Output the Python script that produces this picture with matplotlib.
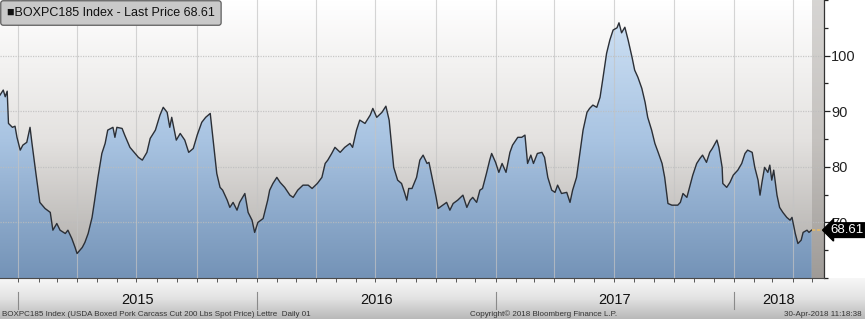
import numpy as np
import pandas as pd
import matplotlib
matplotlib.use("Agg")
import matplotlib.pyplot as plt
import matplotlib.dates as mdates
from matplotlib.colors import LinearSegmentedColormap
from matplotlib.transforms import blended_transform_factory

plt.rcParams["font.family"] = ["Liberation Sans", "DejaVu Sans"]

# BOXPC185 Index, last price series
dates = [
    "2014-12-04", "2014-12-09", "2014-12-12", "2014-12-15", "2014-12-17", "2014-12-23", "2014-12-27",
    "2014-12-30", "2015-01-04", "2015-01-08", "2015-01-14", "2015-01-19", "2015-01-22", "2015-01-28",
    "2015-02-03", "2015-02-11", "2015-02-19", "2015-02-23", "2015-03-01", "2015-03-06", "2015-03-14",
    "2015-03-18", "2015-03-24", "2015-03-29", "2015-04-01", "2015-04-09", "2015-04-13", "2015-04-18",
    "2015-04-24", "2015-04-28", "2015-05-03", "2015-05-09", "2015-05-14", "2015-05-18", "2015-05-26",
    "2015-05-29", "2015-06-01", "2015-06-09", "2015-06-13", "2015-06-21", "2015-06-29", "2015-07-04",
    "2015-07-10", "2015-07-17", "2015-07-22", "2015-07-30", "2015-08-06", "2015-08-11", "2015-08-17",
    "2015-08-21", "2015-08-24", "2015-08-31", "2015-09-06", "2015-09-13", "2015-09-19", "2015-09-26",
    "2015-10-02", "2015-10-09", "2015-10-15", "2015-10-22", "2015-10-26", "2015-11-01", "2015-11-06",
    "2015-11-10", "2015-11-17", "2015-11-21", "2015-11-26", "2015-12-02", "2015-12-06", "2015-12-14",
    "2015-12-19", "2015-12-25", "2015-12-29", "2016-01-03", "2016-01-11", "2016-01-18", "2016-01-21",
    "2016-01-26", "2016-02-01", "2016-02-06", "2016-02-13", "2016-02-21", "2016-02-26", "2016-03-04",
    "2016-03-12", "2016-03-20", "2016-03-26", "2016-04-03", "2016-04-10", "2016-04-15", "2016-04-19",
    "2016-04-25", "2016-04-30", "2016-05-08", "2016-05-15", "2016-05-23", "2016-05-27", "2016-06-02",
    "2016-06-07", "2016-06-15", "2016-06-23", "2016-06-27", "2016-07-03", "2016-07-11", "2016-07-17",
    "2016-07-22", "2016-07-26", "2016-07-29", "2016-08-04", "2016-08-10", "2016-08-15", "2016-08-18",
    "2016-08-21", "2016-08-26", "2016-09-02", "2016-09-07", "2016-09-12", "2016-09-18", "2016-09-21",
    "2016-09-25", "2016-10-02", "2016-10-05", "2016-10-12", "2016-10-18", "2016-10-23", "2016-10-28",
    "2016-11-04", "2016-11-12", "2016-11-18", "2016-11-23", "2016-11-27", "2016-12-03", "2016-12-08",
    "2016-12-12", "2016-12-18", "2016-12-23", "2016-12-26", "2017-01-01", "2017-01-06", "2017-01-11",
    "2017-01-17", "2017-01-23", "2017-01-27", "2017-02-04", "2017-02-10", "2017-02-15", "2017-02-19",
    "2017-02-24", "2017-02-28", "2017-03-06", "2017-03-13", "2017-03-17", "2017-03-22", "2017-03-28",
    "2017-04-02", "2017-04-06", "2017-04-12", "2017-04-20", "2017-04-25", "2017-04-29", "2017-05-05",
    "2017-05-10", "2017-05-15", "2017-05-21", "2017-05-25", "2017-05-30", "2017-06-05", "2017-06-10",
    "2017-06-14", "2017-06-20", "2017-06-25", "2017-06-30", "2017-07-06", "2017-07-09", "2017-07-13",
    "2017-07-18", "2017-07-23", "2017-07-29", "2017-08-02", "2017-08-07", "2017-08-13", "2017-08-18",
    "2017-08-22", "2017-08-28", "2017-09-02", "2017-09-07", "2017-09-13", "2017-09-17", "2017-09-22",
    "2017-09-28", "2017-10-03", "2017-10-07", "2017-10-11", "2017-10-15", "2017-10-21", "2017-10-26",
    "2017-10-30", "2017-11-05", "2017-11-10", "2017-11-14", "2017-11-20", "2017-11-25", "2017-11-29",
    "2017-12-06", "2017-12-09", "2017-12-14", "2017-12-15", "2017-12-21", "2017-12-26", "2017-12-31",
    "2018-01-07", "2018-01-13", "2018-01-18", "2018-01-22", "2018-01-29", "2018-02-02", "2018-02-07",
    "2018-02-10", "2018-02-13", "2018-02-17", "2018-02-22", "2018-02-25", "2018-02-28", "2018-03-03",
    "2018-03-08", "2018-03-12", "2018-03-17", "2018-03-23", "2018-03-28", "2018-03-31", "2018-04-05",
    "2018-04-09", "2018-04-14", "2018-04-17", "2018-04-23", "2018-04-26", "2018-04-30",
]
prices = [
    92.9, 93.8, 92.6, 93.6, 87.8, 87.1, 87.3,
    85.3, 83.0, 83.9, 84.4, 87.1, 84.2, 78.8,
    73.6, 72.5, 71.8, 68.6, 69.8, 68.6, 68.0,
    68.6, 67.1, 65.5, 64.4, 65.5, 66.4, 68.0,
    70.9, 74.0, 78.1, 82.4, 84.2, 86.6, 87.1,
    85.3, 87.1, 86.9, 85.7, 83.5, 82.4, 81.7,
    81.2, 82.6, 85.1, 86.6, 89.3, 90.7, 89.8,
    87.1, 88.9, 84.8, 86.0, 84.8, 82.6, 83.3,
    85.7, 88.0, 88.9, 89.6, 85.3, 78.8, 76.3,
    75.8, 74.0, 72.7, 73.6, 72.2, 73.6, 75.2,
    71.8, 70.4, 68.2, 70.0, 70.7, 74.0, 75.8,
    77.0, 78.1, 77.2, 76.3, 74.9, 74.5, 75.8,
    76.7, 76.7, 76.1, 77.0, 78.1, 80.6, 81.2,
    82.4, 83.5, 82.6, 83.5, 84.2, 83.5, 86.6,
    88.4, 87.8, 89.3, 90.5, 88.9, 89.8, 90.9,
    88.4, 83.5, 79.9, 77.6, 77.0, 75.2, 74.0,
    76.1, 76.1, 78.1, 81.2, 82.1, 80.6, 80.8,
    78.5, 74.5, 72.5, 73.1, 73.6, 72.2, 73.4,
    74.0, 74.9, 72.7, 74.0, 74.5, 73.6, 75.8,
    76.1, 78.8, 81.2, 82.4, 80.8, 79.0, 80.6,
    79.0, 82.6, 83.9, 85.3, 85.3, 85.7, 80.6,
    82.1, 80.6, 82.4, 82.6, 81.7, 78.1, 75.8,
    75.4, 76.7, 75.2, 75.4, 73.6, 75.8, 78.1,
    82.4, 86.6, 89.8, 90.5, 91.1, 90.7, 92.5,
    95.6, 100.4, 102.8, 104.6, 105.0, 105.9, 104.1,
    105.1, 102.8, 99.7, 97.4, 96.1, 94.1, 91.6,
    88.9, 86.6, 84.2, 82.6, 80.6, 78.1, 73.4,
    73.1, 73.1, 73.1, 73.6, 75.2, 74.5, 76.7,
    78.5, 80.6, 81.5, 82.1, 80.8, 82.6, 83.3,
    84.8, 83.5, 79.9, 77.0, 76.3, 77.2, 78.5,
    79.4, 80.6, 82.4, 83.0, 82.6, 79.9, 77.6,
    74.9, 77.2, 79.9, 79.0, 80.3, 77.6, 79.4,
    74.9, 72.7, 71.8, 70.9, 70.4, 70.9, 68.0,
    66.2, 66.8, 68.2, 68.6, 68.2, 68.61,
]
years = ["2015", "2016", "2017", "2018"]
last_price = 68.61

x = pd.to_datetime(dates)
y = np.array(prices)
xmin = pd.Timestamp("2014-12-04")
xmax = pd.Timestamp("2018-05-19")
ymin, ymax = 60, 110

W, H = 865, 319
fig = plt.figure(figsize=(W / 100, H / 100), dpi=100)
fig.patch.set_facecolor("white")

# grey band below the plot
band = fig.add_axes([0, 0, 1, 41 / H], zorder=0)
band.imshow(np.linspace(0, 1, 50).reshape(-1, 1), aspect="auto",
            cmap=LinearSegmentedColormap.from_list("band", ["#f7f7f7", "#e2e2e2", "#b9b9b9"]),
            extent=[0, 1, 0, 1], origin="upper")
band.axis("off")

ax = fig.add_axes([0, 41 / H, 824 / W, 278 / H], zorder=2)
ax.set_facecolor("none")
x0, x1 = mdates.date2num(xmin), mdates.date2num(xmax)

# background gradient
bg_cmap = LinearSegmentedColormap.from_list("bg", ["#ffffff", "#e4e2e0", "#aaa7a4"])
ax.imshow(np.linspace(0, 1, 200).reshape(-1, 1), aspect="auto", cmap=bg_cmap,
          extent=[x0, x1, ymin, ymax], origin="upper", zorder=0)

# area after last price
ax.axvspan(x[-1], xmax, color="#8c8782", alpha=0.35, lw=0, zorder=1)

# blue gradient under the curve
poly = ax.fill_between(x, y, ymin, facecolor="none", edgecolor="none", zorder=2)
fill_cmap = LinearSegmentedColormap.from_list("fill", ["#d2e4f6", "#a9c4e2", "#7493b7"])
im = ax.imshow(np.linspace(0, 1, 200).reshape(-1, 1), aspect="auto", cmap=fill_cmap,
               extent=[x0, x1, ymin, ymax], origin="upper", zorder=2)
im.set_clip_path(poly.get_paths()[0], transform=ax.transData)

# grid
for v in [70, 80, 90, 100]:
    ax.axhline(v, color="#bdbdbd", lw=0.9, ls=(0, (1, 1)), alpha=0.8, zorder=3)
for q in pd.date_range("2015-01-01", xmax, freq="QS"):
    ax.axvline(q, color="#c4c4c4", lw=0.8, alpha=0.7, zorder=3)

ax.plot(x, y, color="#2b2f36", lw=1.0, zorder=4)

# last price marker line
ax.hlines(last_price, x[-1], xmax, color="#e3b96a", lw=1.2, ls=(0, (2, 1)), zorder=4)

ax.set_xlim(xmin, xmax)
ax.set_ylim(ymin, ymax)

# axes styling
for s in ["top", "left"]:
    ax.spines[s].set_visible(False)
ax.spines["right"].set_color("#333333")
ax.spines["bottom"].set_color("#4a4a4a")
ax.spines["right"].set_linewidth(0.9)
ax.spines["bottom"].set_linewidth(0.8)

ax.yaxis.tick_right()
ax.set_yticks([70, 80, 90, 100])
ax.set_yticks([60, 65, 75, 85, 95, 105, 110], minor=True)
ax.tick_params(axis="y", which="major", length=4, width=0.9, pad=1, labelsize=10.5,
               colors="#222222")
ax.tick_params(axis="y", which="minor", length=3, width=0.9, colors="#222222")

ax.xaxis.set_major_locator(mdates.MonthLocator())
ax.xaxis.set_major_formatter(plt.NullFormatter())
ax.tick_params(axis="x", which="major", length=3, width=0.7, colors="#555555")

# year separators and labels
tr = blended_transform_factory(ax.transData, ax.transAxes)
for i, yr in enumerate(years):
    start = pd.Timestamp(f"{yr}-01-01")
    end = min(pd.Timestamp(f"{int(yr) + 1}-01-01"), xmax)
    ax.plot([start, start], [-0.05, -0.11], transform=tr, color="#8a8a8a", lw=0.8,
            clip_on=False)
    mid = start + (end - start) / 2
    ax.text(mid, -0.08, yr, transform=tr, ha="center", va="center", fontsize=10.5,
            color="#111111")

# last price tag
ax.annotate(f"{last_price:.2f}", xy=(1.0, last_price), xycoords=("axes fraction", "data"),
            xytext=(4.5, 0), textcoords="offset points", ha="left", va="center",
            fontsize=9.5, color="white",
            bbox=dict(boxstyle="larrow,pad=0.1", fc="black", ec="black"), zorder=6,
            annotation_clip=False)

# legend box
ax.text(7 / 824, 1 - 13 / 278, "\u25a0BOXPC185 Index - Last Price 68.61", transform=ax.transAxes,
        ha="left", va="center", fontsize=9, color="#111111", zorder=6,
        bbox=dict(boxstyle="round,pad=0.5,rounding_size=0.2", fc="#c9c9c9", ec="#5e5e5e",
                  lw=0.9))

# footer
fig.text(0.002, 0.004, "BOXPC185 Index (USDA Boxed Pork Carcass Cut 200 Lbs Spot Price) Lettre  Daily 01",
         fontsize=5.8, color="#333333", ha="left", va="bottom")
fig.text(470 / W, 0.004, "Copyright\u00a9 2018 Bloomberg Finance L.P.", fontsize=5.8,
         color="#333333", ha="left", va="bottom")
fig.text(862 / W, 0.004, "30-Apr-2018 11:18:38", fontsize=5.8, color="#333333",
         ha="right", va="bottom")

fig.savefig("out.png", dpi=100)
